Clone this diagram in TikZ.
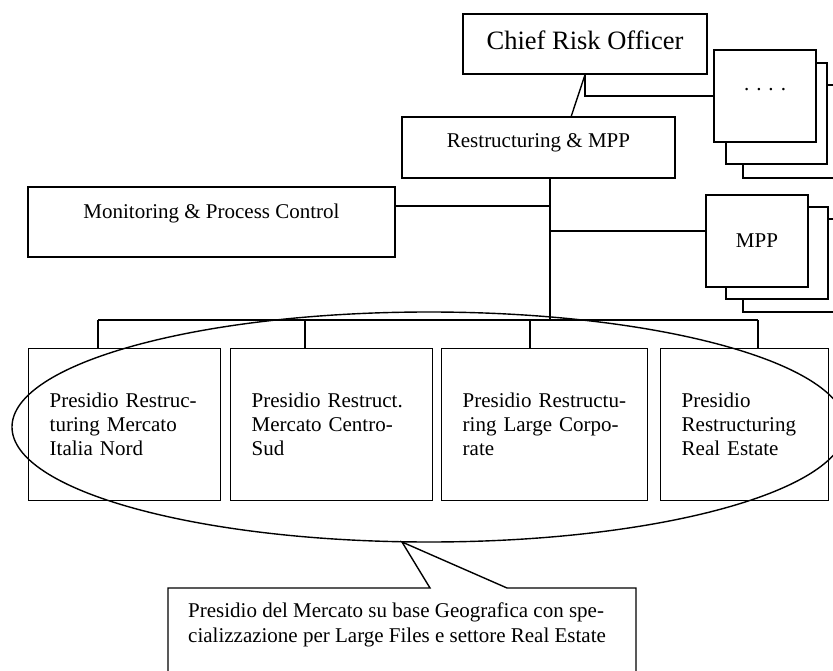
\documentclass[tikz,border=0pt]{standalone}
\usepackage{fontspec}
\setmainfont{Liberation Serif}
\usetikzlibrary{calc}
\tikzset{
  oc text/.style={font=\fontsize{21}{24}\selectfont, text=black},
  oc box/.style={draw=black, line width=1.4pt, fill=white, inner sep=0pt, align=center},
  oc stack/.style={oc box, minimum width=102pt, minimum height=92pt},
  oc unit/.style={draw=black, line width=1.4pt, inner xsep=21pt, inner ysep=0pt,
    align=left, minimum height=152pt, anchor=north west},
  oc link/.style={draw=black, line width=1.4pt}
}

\begin{document}
\begin{tikzpicture}[oc text, x=1pt, y=-1pt]
  \clip (0,0) rectangle (833,671);
  \fill[white] (0,0) rectangle (833,671);
  % top of the chart
  \node[oc box, minimum width=244pt, minimum height=60pt, text height=19pt, text depth=7pt,
    font=\fontsize{26.5}{30}\selectfont] (cro) at (585,44) {Chief Risk Officer};
  \node[oc stack, minimum height=93pt] (dots3) at (794,131.5) {};
  \node[oc stack, minimum width=101pt, minimum height=101pt] (dots2) at (776.5,113.5) {};
  \node[oc stack, text height=4pt, text depth=14pt] (dots1) at (765,96) {. . . .};
  \node[oc box, minimum width=273pt, minimum height=61pt, text height=14pt, text depth=13pt]
    (restr) at (538.5,147.5) {Restructuring \& MPP};
  \node[oc box, minimum width=367pt, minimum height=70pt, text height=16pt, text depth=22pt]
    (monitor) at (211.5,222) {Monitoring \& Process Control};
  \node[oc stack, minimum width=104pt, minimum height=93pt] (mpp3) at (795,265.5) {};
  \node[oc stack] (mpp2) at (777,253) {};
  \node[oc stack] (mpp1) at (757,241) {MPP};
  % presidi
  \node[oc unit, text width=150pt] (p1) at (28,348) {Presidio Restruc-\\turing Mercato\\Italia Nord};
  \node[oc unit, text width=160pt] (p2) at (230,348) {Presidio Restruct.\\Mercato Centro-\\Sud};
  \node[oc unit, text width=164pt] (p3) at (441,348) {Presidio Restructu-\\ring Large Corpo-\\rate};
  \node[oc unit, text width=126pt] (p4) at (660,348) {Presidio\\Restructuring\\Real Estate};
  % links
  \coordinate (restr in) at (571,117);
  \draw[oc link] (cro.south) -- (restr in);
  \draw[oc link] (cro.south) |- (dots1.west);
  \coordinate (trunk) at (550,320);
  \draw[oc link] (trunk |- restr.south) -- (trunk);
  \coordinate (mon out) at ([yshift=16pt]monitor.east);
  \draw[oc link] (mon out) -- (mon out -| trunk);
  \coordinate (mpp in) at ([yshift=10pt]mpp1.west);
  \draw[oc link] (mpp in -| trunk) -- (mpp in);
  \coordinate (bus w) at (98,320);
  \coordinate (bus e) at (758,320);
  \draw[oc link] (bus w) -- (bus e);
  \foreach \u/\x in {p1/98,p2/305,p3/530,p4/758} {
    \coordinate (drop) at (\x,320);
    \draw[oc link] (drop) -- (drop |- \u.north);
  }
  % grouping and note
  \draw[oc link] (429,427) ellipse [x radius=417, y radius=115];
  \coordinate (note nw) at (168,588);
  \coordinate (note se) at (636,690);
  \coordinate (note tip) at (402,542);
  \coordinate (tip l) at (430,588);
  \coordinate (tip r) at (507,588);
  \draw[oc link] (tip l) -- (note tip) -- (tip r) -| (note se) -| (note nw) -- cycle;
  \node[anchor=north west, inner sep=0pt, align=left, font=\fontsize{21}{25}\selectfont]
    (note) at (188,603)
    {Presidio del Mercato su base Geografica con spe-\\cializzazione per Large Files e settore Real Estate};
\end{tikzpicture}
\end{document}
